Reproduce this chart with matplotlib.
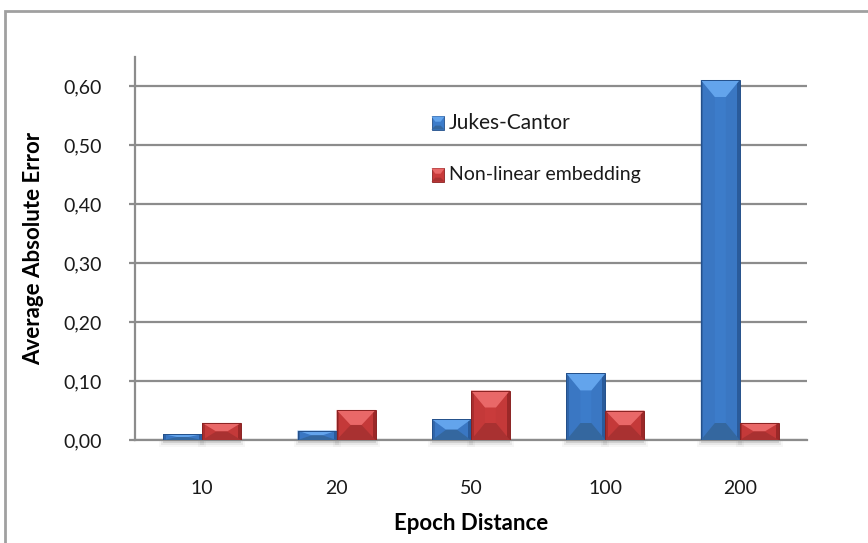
import matplotlib
matplotlib.use("Agg")
import matplotlib.pyplot as plt
from matplotlib.patches import Polygon, Rectangle
from matplotlib.ticker import FuncFormatter

# Data
categories = ["10", "20", "50", "100", "200"]
jukes_cantor = [0.010, 0.016, 0.035, 0.113, 0.611]
nonlinear_embedding = [0.029, 0.051, 0.084, 0.050, 0.029]
series_names = ["Jukes-Cantor", "Non-linear embedding"]
yticks = [0.0, 0.1, 0.2, 0.3, 0.4, 0.5, 0.6]

# Face colours: (main, top bevel, bottom bevel, sides, edge)
blue = ("#3c7cca", "#63a4ec", "#34679f", "#3a77c3", "#24508a")
red = ("#c93b3b", "#e96868", "#a93131", "#c43939", "#8a2222")

plt.rcParams["font.family"] = ["Lato", "DejaVu Sans"]

fig = plt.figure(figsize=(8.68, 5.43), dpi=100)
ax_left, ax_right, ax_bottom, ax_top = 135, 807, 440, 57
ax = fig.add_axes([ax_left / 868, 1 - ax_bottom / 543,
                   (ax_right - ax_left) / 868, (ax_bottom - ax_top) / 543])

ymax = 0.65
ax.set_xlim(-0.5, len(categories) - 0.5)
ax.set_ylim(0, ymax)

# pixel -> data conversions for the bevels
px_x = len(categories) / (ax_right - ax_left)
px_y = ymax / (ax_bottom - ax_top)

bar_w = 0.29


def bevel_bar(x0, h, cols):
    main, top, bot, side, edge = cols
    x1 = x0 + bar_w
    # soft shadow under the bar
    for k, a in enumerate([0.10, 0.06, 0.03]):
        ax.add_patch(Rectangle((x0 - k * 2 * px_x, -(3 + 2 * k) * px_y),
                               bar_w + 4 * k * px_x, (3 + 2 * k) * px_y,
                               color="#000000", alpha=a, lw=0, zorder=2, clip_on=False))
    ax.add_patch(Rectangle((x0, 0), bar_w, h, facecolor=main, edgecolor="none", zorder=3))
    bx = min(14 * px_x, bar_w / 2)
    by = min(17 * px_y, h / 2)
    # side faces
    ax.add_patch(Polygon([(x0, 0), (x0 + bx, by), (x0 + bx, h - by), (x0, h)],
                         closed=True, facecolor=side, edgecolor="none", zorder=3))
    ax.add_patch(Polygon([(x1, 0), (x1 - bx, by), (x1 - bx, h - by), (x1, h)],
                         closed=True, facecolor=side, edgecolor="none", zorder=3))
    # darker edge strips
    ax.add_patch(Rectangle((x0, 0), 2.5 * px_x, h, facecolor=edge, alpha=0.45,
                           edgecolor="none", zorder=4))
    ax.add_patch(Rectangle((x1 - 3 * px_x, 0), 3 * px_x, h, facecolor=edge, alpha=0.7,
                           edgecolor="none", zorder=4))
    # top and bottom bevels
    ax.add_patch(Polygon([(x0, h), (x1, h), (x1 - bx, h - by), (x0 + bx, h - by)],
                         closed=True, facecolor=top, edgecolor="none", zorder=5))
    ax.add_patch(Polygon([(x0, 0), (x1, 0), (x1 - bx, by), (x0 + bx, by)],
                         closed=True, facecolor=bot, edgecolor="none", zorder=5))
    # thin dark outline
    ax.add_patch(Rectangle((x0, 0), bar_w, h, facecolor="none",
                           edgecolor=edge, lw=0.7, zorder=6))


for i in range(len(categories)):
    bevel_bar(i - bar_w, jukes_cantor[i], blue)
    bevel_bar(i, nonlinear_embedding[i], red)

# grid and axes
ax.set_yticks(yticks)
ax.yaxis.set_major_formatter(FuncFormatter(lambda v, p: f"{v:.2f}".replace(".", ",")))
ax.grid(axis="y", color="#8c8c8c", lw=1.6, zorder=1)
ax.set_axisbelow(True)
ax.set_xticks(range(len(categories)))
ax.set_xticklabels(categories)
for s in ["top", "right"]:
    ax.spines[s].set_visible(False)
for s in ["left", "bottom"]:
    ax.spines[s].set_color("#8c8c8c")
    ax.spines[s].set_linewidth(1.6)
ax.tick_params(axis="y", length=4, width=1.6, color="#8c8c8c", labelsize=14,
               labelcolor="#1a1a1a", pad=20)
ax.tick_params(axis="x", length=0, labelsize=14, labelcolor="#1a1a1a", pad=29)

ax.set_ylabel("Average Absolute Error", fontsize=16, fontweight="bold", labelpad=14)
ax.set_xlabel("Epoch Distance", fontsize=16, fontweight="bold", labelpad=11)


# legend entries as small bevelled squares with text
def legend_marker(xc, yc, cols):
    main, top, bot, side, edge = cols
    s = 13
    x0, y0 = (xc - s / 2) / 868, 1 - (yc + s / 2) / 543
    w, hh = s / 868, s / 543
    fig.patches.append(Rectangle((x0, y0), w, hh, transform=fig.transFigure,
                                 facecolor=main, edgecolor=edge, lw=0.6, zorder=5))
    fig.patches.append(Polygon([(x0, y0 + hh), (x0 + w, y0 + hh), (x0 + w * 0.7, y0 + hh * 0.6),
                                (x0 + w * 0.3, y0 + hh * 0.6)], closed=True,
                               transform=fig.transFigure, facecolor=top, edgecolor="none", zorder=6))
    fig.patches.append(Polygon([(x0, y0), (x0 + w, y0), (x0 + w * 0.7, y0 + hh * 0.3),
                                (x0 + w * 0.3, y0 + hh * 0.3)], closed=True,
                               transform=fig.transFigure, facecolor=bot, edgecolor="none", zorder=6))


legend_marker(438, 123, blue)
legend_marker(438, 175, red)
fig.text(449 / 868, 1 - 123 / 543, series_names[0], fontsize=15, va="center", color="#1a1a1a")
fig.text(449 / 868, 1 - 174 / 543, series_names[1], fontsize=14, va="center", color="#1a1a1a")

# outer chart frame
fig.patches.append(Rectangle((4.5 / 868, -0.05), 1.1, 1 - 10.5 / 543 + 0.05,
                             transform=fig.transFigure, facecolor="none",
                             edgecolor="#a0a0a0", lw=2.0, zorder=0))

fig.savefig("out.png", dpi=100)
